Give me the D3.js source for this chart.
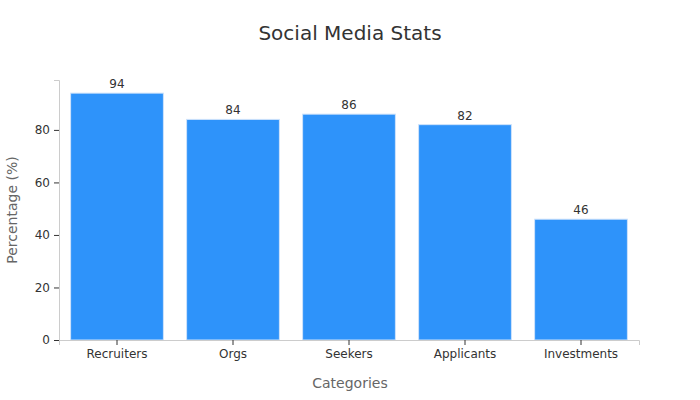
<!DOCTYPE html>
<html><head><meta charset="utf-8">
<script src="https://cdn.jsdelivr.net/npm/d3@7"></script>
<style>body{margin:0;background:#fff}text{font-family:"DejaVu Sans",sans-serif}</style>
</head><body><svg id="c" width="700" height="400"></svg>
<script>
const categories = ["Recruiters","Orgs","Seekers","Applicants","Investments"];
const values = [94,84,86,82,46];
const yTicks = [0,20,40,60,80];

const svg = d3.select("#c");
const m = {l:59, r:639, t:80, b:340};
const x = d3.scaleBand().domain(categories).range([m.l,m.r]).paddingInner(0.2).paddingOuter(0.1);
const y = d3.scaleLinear().domain([0,99]).range([m.b,m.t]);

svg.append("text").attr("x",350).attr("y",40).attr("text-anchor","middle")
  .attr("font-size",20).attr("fill","#333").text("Social Media Stats");

svg.selectAll("rect.bar").data(values).join("rect").attr("class","bar")
  .attr("x",(d,i)=>x(categories[i])).attr("width",x.bandwidth())
  .attr("y",d=>y(d)).attr("height",d=>y(0)-y(d))
  .attr("fill","#2E93FA").attr("stroke","#cfe3fb").attr("stroke-width",1);

svg.selectAll("text.val").data(values).join("text").attr("class","val")
  .attr("x",(d,i)=>x(categories[i])+x.bandwidth()/2).attr("y",d=>y(d)-5)
  .attr("text-anchor","middle").attr("font-size",12).attr("fill","#333").text(d=>d);

const ya = svg.append("g").attr("transform",`translate(${m.l},0)`)
  .call(d3.axisLeft(y).tickValues(yTicks).tickSize(5).tickPadding(4));
const xa = svg.append("g").attr("transform",`translate(0,${m.b})`)
  .call(d3.axisBottom(x).tickSize(5).tickPadding(4));
[ya,xa].forEach(a=>{a.select(".domain").attr("stroke","#ccc");
  a.selectAll(".tick line").attr("stroke","#333");
  a.selectAll(".tick text").attr("font-size",12).attr("fill","#333").attr("font-family","DejaVu Sans");});
svg.append("text").attr("x",350).attr("y",388).attr("text-anchor","middle")
  .attr("font-size",14).attr("fill","#666").text("Categories");
svg.append("text").attr("transform","translate(17,210) rotate(-90)").attr("text-anchor","middle")
  .attr("font-size",14).attr("fill","#666").text("Percentage (%)");
</script></body></html>
